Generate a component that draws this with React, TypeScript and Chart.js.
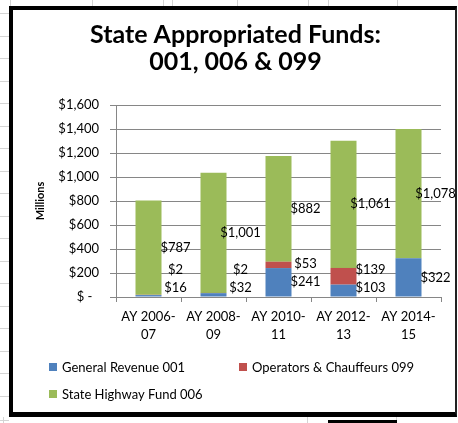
import React, { useEffect, useRef } from 'react';
import { Chart, registerables } from 'chart.js';

Chart.register(...registerables);

const categories: string[][] = [
  ['AY 2006-', '07'],
  ['AY 2008-', '09'],
  ['AY 2010-', '11'],
  ['AY 2012-', '13'],
  ['AY 2014-', '15'],
];
const generalRevenue001: (number | null)[] = [16, 32, 241, 103, 322];
const operatorsChauffeurs099: (number | null)[] = [2, 2, 53, 139, null];
const stateHighway006: (number | null)[] = [787, 1001, 882, 1061, 1078];
const seriesNames = ['General Revenue 001', 'Operators & Chauffeurs 099', 'State Highway Fund 006'];
const titleLines = ['State Appropriated Funds:', '001, 006 & 099'];
const yMin = 0;
const yMax = 1600;
const yStep = 200;

const FONT = "Lato, 'Liberation Sans', sans-serif";
const COLORS = ['#4F81BD', '#C0504D', '#9BBB59'];

const fmt = (v: number) => '$' + v.toLocaleString('en-US');

const dataLabelsPlugin = {
  id: 'stackLabels',
  afterDatasetsDraw(chart: any) {
    const ctx = chart.ctx;
    const area = chart.chartArea;
    const n = chart.data.labels.length;
    ctx.save();
    ctx.font = `13px ${FONT}`;
    ctx.fillStyle = '#000';
    ctx.textAlign = 'center';
    ctx.textBaseline = 'middle';
    for (let i = 0; i < n; i++) {
      let prev = area.bottom - 9 + 18;
      chart.data.datasets.forEach((ds: any, di: number) => {
        const v = ds.data[i];
        if (v == null || v === 0) return;
        const el = chart.getDatasetMeta(di).data[i];
        const yc = (el.y + el.base) / 2;
        const y = Math.min(yc, prev - 18);
        prev = y;
        ctx.fillText(fmt(v), el.x + 27, y);
      });
    }
    ctx.restore();
  },
};

const legendPlugin = {
  id: 'customLegend',
  afterDraw(chart: any) {
    const ctx = chart.ctx;
    const spots = [
      { x: 49, y: 363 },
      { x: 239, y: 363 },
      { x: 49, y: 390 },
    ];
    ctx.save();
    ctx.font = `13px ${FONT}`;
    ctx.textAlign = 'left';
    ctx.textBaseline = 'middle';
    chart.data.datasets.forEach((ds: any, i: number) => {
      const p = spots[i];
      ctx.fillStyle = ds.backgroundColor;
      ctx.fillRect(p.x, p.y, 8, 8);
      ctx.fillStyle = '#000';
      ctx.fillText(ds.label, p.x + 13, p.y + 4.5);
    });
    ctx.restore();
  },
};

const bgHLines = Array.from({ length: 18 }, (_, k) => 13 + 22.5 * k);
const bgVTop = [10, 92, 163, 172, 237, 308, 328, 397];
const bgVBottom = [3, 307, 396];

export default function App() {
  const ref = useRef<HTMLCanvasElement | null>(null);

  useEffect(() => {
    if (!ref.current) return;
    const series = [generalRevenue001, operatorsChauffeurs099, stateHighway006];
    const chart = new Chart(ref.current, {
      type: 'bar',
      data: {
        labels: categories,
        datasets: series.map((d, i) => ({
          label: seriesNames[i],
          data: d,
          backgroundColor: COLORS[i],
          borderWidth: 0,
          barPercentage: 0.4,
          categoryPercentage: 1,
        })),
      },
      options: {
        responsive: false,
        animation: false,
        layout: { padding: { left: 30, right: 17, top: 0, bottom: 76 } },
        plugins: {
          legend: { display: false },
          tooltip: { enabled: false },
          title: {
            display: true,
            text: titleLines,
            color: '#000',
            font: { family: FONT, size: 25, weight: 'bold', lineHeight: 1.06 },
            padding: { top: 22, bottom: 30 },
          },
        },
        scales: {
          x: {
            stacked: true,
            afterFit: (s: any) => { s.height = 50; },
            grid: {
              display: true,
              drawOnChartArea: false,
              drawTicks: true,
              tickLength: 5,
              color: '#868686',
              offset: true,
            },
            border: { display: true, color: '#868686' },
            ticks: {
              color: '#000',
              font: { family: FONT, size: 13, lineHeight: 1.4 },
              padding: 6,
              maxRotation: 0,
              autoSkip: false,
            },
          },
          y: {
            stacked: true,
            min: yMin,
            max: yMax,
            afterFit: (s: any) => { s.width = 86; },
            grid: { color: '#868686', tickLength: 6, drawTicks: true },
            border: { display: true, color: '#868686' },
            ticks: {
              stepSize: yStep,
              color: '#000',
              padding: 11,
              font: { family: FONT, size: 13 },
              callback: (v: any) => (Number(v) === 0 ? '$ -  ' : fmt(Number(v))),
            },
            title: {
              display: true,
              text: 'Millions',
              color: '#000',
              font: { family: FONT, size: 11, weight: 'bold' },
              padding: { top: 4, bottom: 4 },
            },
          },
        },
      },
      plugins: [dataLabelsPlugin, legendPlugin],
    } as any);
    return () => chart.destroy();
  }, []);

  return (
    <div style={{ position: 'absolute', left: 0, top: 0, width: 458, height: 423, background: '#fff', overflow: 'hidden' }}>
      {bgHLines.map((y, i) => (
        <div key={'h' + i} style={{ position: 'absolute', left: 0, top: y, width: 9, height: 1, background: '#d4d4d4' }} />
      ))}
      {bgVTop.map((x, i) => (
        <div key={'vt' + i} style={{ position: 'absolute', left: x, top: 0, width: 1, height: 6, background: '#d4d4d4' }} />
      ))}
      {bgVBottom.map((x, i) => (
        <div key={'vb' + i} style={{ position: 'absolute', left: x, top: 417, width: 1, height: 6, background: '#d4d4d4' }} />
      ))}
      <div style={{ position: 'absolute', left: 0, top: 420, width: 9, height: 1, background: '#d4d4d4' }} />
      <div style={{ position: 'absolute', left: 328, top: 420, width: 69, height: 3, background: '#000' }} />
      <div
        style={{
          position: 'absolute',
          left: 9,
          top: 6,
          width: 448,
          height: 411,
          boxSizing: 'border-box',
          borderLeft: '4px solid #000',
          borderTop: '4px solid #000',
          borderRight: '2px solid #222',
          borderBottom: '5px solid #000',
          background: '#fff',
        }}
      />
      <canvas
        ref={ref}
        width={458}
        height={423}
        style={{ position: 'absolute', left: 0, top: 0, width: 458, height: 423 }}
      />
    </div>
  );
}
